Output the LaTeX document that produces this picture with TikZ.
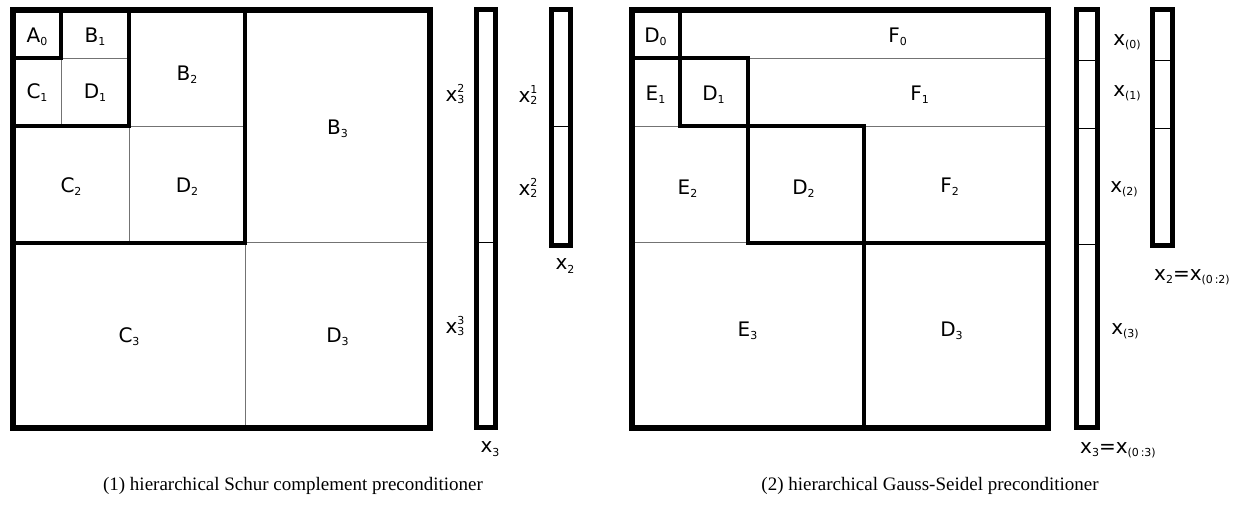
\documentclass[tikz,border=0pt]{standalone}
\usepackage{fontspec}
\setmainfont{DejaVu Sans}
\newfontfamily\capfont{Liberation Serif}
\usepackage{tikz}
\usetikzlibrary{positioning}
\tikzstyle{matframe} = [line width=6pt]
\tikzstyle{diagblock} = [line width=4pt]
\tikzstyle{thinsplit} = [line width=1pt, draw=black!55]
\tikzstyle{vecframe} = [line width=5pt]
\tikzstyle{vecsplit} = [line width=1pt]
\tikzstyle{blklabel} = [inner sep=0pt, font=\fontsize{20}{20}\selectfont]
\tikzstyle{subcap} = [inner sep=0pt, font=\capfont\fontsize{19}{19}\selectfont]
\newcommand{\lsub}[1]{\raisebox{-0.3ex}{\fontsize{11}{11}\selectfont #1}}
\newcommand{\lstk}[2]{\raisebox{-2pt}{\fontsize{11}{11}\selectfont\shortstack[l]{#1\\#2}}}

\begin{document}
\begin{tikzpicture}[x=1pt,y=-1pt]
	\useasboundingbox (0,0) rectangle (1239,508);
	% (1) Schur complement
	\begin{scope}[shift={(13,10.5)}]
		\foreach \a/\b in {48/116,116/232,232/417}
			\draw[thinsplit] (\a,\a) -- (\b,\a) (\a,\a) -- (\a,\b);
		\foreach \s in {48,116,232}
			\draw[diagblock] (0,0) rectangle (\s,\s);
		\draw[matframe] (0,0) rectangle (417,417);
		\node[blklabel] (A0) at (24,26) {A\lsub{0}};
		\node[blklabel] (B1) at (82,26) {B\lsub{1}};
		\node[blklabel] (C1) at (24,82) {C\lsub{1}};
		\node[blklabel] (D1) at (82,82) {D\lsub{1}};
		\node[blklabel] (B2) at (174,64) {B\lsub{2}};
		\node[blklabel] (C2) at (58,176) {C\lsub{2}};
		\node[blklabel] (D2) at (174,176) {D\lsub{2}};
		\node[blklabel] (B3) at (324.5,118) {B\lsub{3}};
		\node[blklabel] (C3) at (116,326) {C\lsub{3}};
		\node[blklabel] (D3) at (324.5,326) {D\lsub{3}};
	\end{scope}
	\draw[vecframe] (476,9.5) rectangle (495,427.5);
	\draw[vecsplit] (476,242.5) -- (495,242.5);
	\draw[vecframe] (551,9.5) rectangle (570,245);
	\draw[vecsplit] (551,127) -- (570,127);
	\node[blklabel] (x32) at (455,94) {x\lstk{2}{3}};
	\node[blklabel] (x33) at (455,326) {x\lstk{3}{3}};
	\node[blklabel] (x21) at (528,95) {x\lstk{1}{2}};
	\node[blklabel] (x22) at (528,188) {x\lstk{2}{2}};
	\node[blklabel] (x2) at (565,266) {x\lsub{2}};
	\node[blklabel] (x3) at (490,449) {x\lsub{3}};
	\node[subcap] (cap1) at (293,486) {(1) hierarchical Schur complement preconditioner};
	% (2) Gauss-Seidel
	\begin{scope}[shift={(631.5,10.5)}]
		\draw[thinsplit] (116,48) -- (416,48) (0,116) -- (48,116)
			(232,116) -- (416,116) (0,232) -- (116,232);
		\foreach \a/\b in {0/48,48/116,116/232,232/416}
			\draw[diagblock] (\a,\a) rectangle (\b,\b);
		\draw[matframe] (0,0) rectangle (416,417);
		\node[blklabel] (D0) at (24,26) {D\lsub{0}};
		\node[blklabel] (F0) at (266,26) {F\lsub{0}};
		\node[blklabel] (E1) at (24,84) {E\lsub{1}};
		\node[blklabel] (D1r) at (82,84) {D\lsub{1}};
		\node[blklabel] (F1) at (288,84) {F\lsub{1}};
		\node[blklabel] (E2) at (56,178) {E\lsub{2}};
		\node[blklabel] (D2r) at (172,178) {D\lsub{2}};
		\node[blklabel] (F2) at (318,176) {F\lsub{2}};
		\node[blklabel] (E3) at (116,320) {E\lsub{3}};
		\node[blklabel] (D3r) at (320,320) {D\lsub{3}};
	\end{scope}
	\draw[vecframe] (1076,10) rectangle (1097,427.5);
	\draw[vecsplit] (1076,61) -- (1097,61) (1076,128.5) -- (1097,128.5)
		(1076,244) -- (1097,244);
	\draw[vecframe] (1152,10) rectangle (1172,245.5);
	\draw[vecsplit] (1152,61) -- (1172,61) (1152,128.5) -- (1172,128.5);
	\node[blklabel] (xp0) at (1127,42) {x\lsub{(0)}};
	\node[blklabel] (xp1) at (1127,93) {x\lsub{(1)}};
	\node[blklabel] (xp2) at (1124,189) {x\lsub{(2)}};
	\node[blklabel] (xp3) at (1125,331) {x\lsub{(3)}};
	\node[blklabel] (x2r) at (1192,277) {x\lsub{2}=x\lsub{(0\,:2)}};
	\node[blklabel] (x3r) at (1118,450) {x\lsub{3}=x\lsub{(0\,:3)}};
	\node[subcap] (cap2) at (930,486) {(2) hierarchical Gauss-Seidel preconditioner};
\end{tikzpicture}
\end{document}
